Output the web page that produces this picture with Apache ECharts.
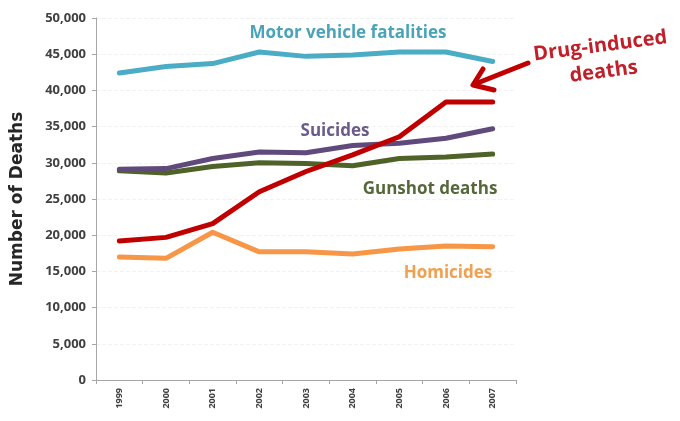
<!DOCTYPE html>
<html><head><meta charset="utf-8">
<script src="https://cdn.jsdelivr.net/npm/echarts@6/dist/echarts.min.js"></script>
<style>html,body{margin:0;padding:0;background:#fff}#c{width:680px;height:421px}</style>
</head><body><div id="c"></div>
<script>
const years = ['1999','2000','2001','2002','2003','2004','2005','2006','2007'];
const motorVehicle = [42400, 43300, 43700, 45300, 44700, 44900, 45300, 45300, 44000];
const drugInduced = [19200, 19700, 21600, 26000, 28800, 31100, 33600, 38400, 38400];
const suicides = [29100, 29200, 30600, 31500, 31400, 32400, 32700, 33400, 34700];
const gunshot = [28900, 28600, 29500, 30000, 29900, 29600, 30600, 30800, 31200];
const homicides = [17000, 16800, 20400, 17700, 17700, 17400, 18100, 18500, 18400];
const yTicks = {min: 0, max: 50000, interval: 5000};

const chart = echarts.init(document.getElementById('c'));
const font = '"Open Sans", Lato, sans-serif';
function line(name, data, color) {
  return {name, type: 'line', data, symbol: 'none', smooth: false,
    lineStyle: {color, width: 5, cap: 'round', join: 'round'}, z: 3};
}
function label(text, x, y, size, color) {
  return {type: 'text', x, y, z: 10, style: {text, font: 'bold ' + size + 'px ' + font, fill: color, align: 'center', verticalAlign: 'middle'}};
}
chart.setOption({
  animation: false,
  backgroundColor: '#fff',
  grid: {left: 96, right: 164, top: 18, bottom: 41},
  xAxis: {type: 'category', data: years, boundaryGap: true,
    axisLine: {lineStyle: {color: '#a6a6a6', width: 1}},
    axisTick: {show: true, length: 4, lineStyle: {color: '#a6a6a6'}},
    axisLabel: {rotate: 90, fontSize: 9, fontWeight: 'bold', color: '#404040', fontFamily: font, margin: 8}
  },
  yAxis: {type: 'value', min: yTicks.min, max: yTicks.max, interval: yTicks.interval,
    name: 'Number of Deaths', nameLocation: 'middle', nameGap: 70,
    nameTextStyle: {fontSize: 17, fontWeight: 'bold', color: '#262626', fontFamily: '"DejaVu Sans", sans-serif'},
    axisLine: {show: true, lineStyle: {color: '#a6a6a6'}},
    axisTick: {show: true, length: 4, lineStyle: {color: '#a6a6a6'}},
    axisLabel: {fontSize: 13, fontWeight: 'bold', color: '#404040', fontFamily: font, margin: 10,
      formatter: v => v.toLocaleString('en-US')},
    splitLine: {show: true, lineStyle: {color: '#f2f2f2', type: 'dashed'}}
  },
  series: [
    line('Motor vehicle fatalities', motorVehicle, '#4bacc6'),
    line('Gunshot deaths', gunshot, '#4f6228'),
    line('Suicides', suicides, '#604a7b'),
    line('Homicides', homicides, '#f79646'),
    line('Drug-induced deaths', drugInduced, '#c00000')
  ],
  graphic: [
    label('Motor vehicle fatalities', 348, 33, 17, '#4aa3b8'),
    label('Suicides', 335, 131, 17, '#6b5a8c'),
    label('Gunshot deaths', 430, 189, 17, '#56683a'),
    label('Homicides', 448, 273, 17, '#f0a050'),
    {type: 'text', x: 602, y: 59, rotation: 0.13, z: 10, style: {text: 'Drug-induced\ndeaths', font: 'bold 20px ' + font, fill: '#c0202a', align: 'center', verticalAlign: 'middle', lineHeight: 26}},
    {type: 'line', z: 10, shape: {x1: 528, y1: 63, x2: 475, y2: 84}, style: {stroke: '#c00000', lineWidth: 5, lineCap: 'round'}},
    {type: 'polyline', z: 10, shape: {points: [[483, 69], [473, 85], [494, 90]]}, style: {stroke: '#c00000', lineWidth: 5, lineCap: 'round', lineJoin: 'round', fill: null}}
  ]
});
</script></body></html>
